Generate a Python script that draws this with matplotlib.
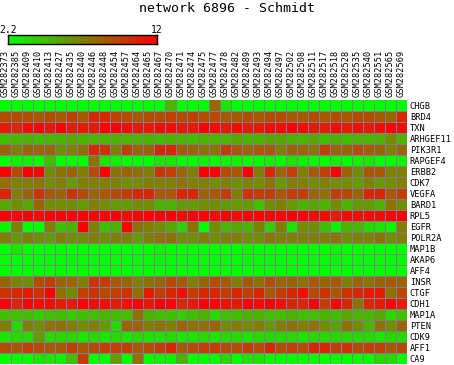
import numpy as np
import matplotlib
matplotlib.use("Agg")
import matplotlib.pyplot as plt
from matplotlib.colors import LinearSegmentedColormap

# sample ids (columns) and genes (rows)
samples = ["GSM282373", "GSM282385", "GSM282409", "GSM282410", "GSM282413", "GSM282427",
           "GSM282435", "GSM282440", "GSM282446", "GSM282448", "GSM282454", "GSM282457",
           "GSM282464", "GSM282465", "GSM282467", "GSM282470", "GSM282471", "GSM282474",
           "GSM282475", "GSM282477", "GSM282478", "GSM282482", "GSM282489", "GSM282493",
           "GSM282494", "GSM282497", "GSM282502", "GSM282508", "GSM282511", "GSM282517",
           "GSM282518", "GSM282528", "GSM282535", "GSM282540", "GSM282551", "GSM282565",
           "GSM282569"]
genes = ["CHGB", "BRD4", "TXN", "ARHGEF11", "PIK3R1", "RAPGEF4", "ERBB2", "CDK7", "VEGFA",
         "BARD1", "RPL5", "EGFR", "POLR2A", "MAP1B", "AKAP6", "AFF4", "INSR", "CTGF", "CDH1",
         "MAP1A", "PTEN", "CDK9", "AFF1", "CA9"]

vmin, vmax = 2.2, 12

# expression values, one list per gene
CHGB = [2.2]*15 + [5.1, 2.2, 2.2, 2.2, 8.1, 3.2] + [2.2]*16
BRD4 = [9.1,9.1,9.1,8.6,9.1,8.6,9.6,8.6,10.5,10.5,9.6,9.1,8.6, 9.1,9.1,9.6,9.1,9.6,9.1,9.1,8.6,8.6,9.1,8.6,9.1, 9.1,8.6,8.6,9.1,8.6,9.1,8.6,9.1,9.1,8.6,8.1,10.5]
TXN = [11.0,10.5,11.5,12.0,11.0,12.0,11.0,11.0,11.0,12.0,12.0,11.5,11.0, 11.0,11.5,11.5,11.0,11.0,12.0,11.5,11.0,11.5,11.0,11.0,11.5, 11.5,12.0,11.5,11.0,11.0,11.5,11.0,11.5,11.0,11.5,12.0,11.5]
ARHGEF11 = [4.7,5.1,5.1,4.7,5.1,5.1,5.6,5.1,5.1,5.1,5.1,5.1,5.1, 5.1,4.7,5.1,5.1,4.7,5.1,5.1,5.1,5.6,5.1,5.1,5.6, 5.6,5.1,5.1,5.6,4.7,5.1,4.7,5.1,5.1,5.1,6.6,5.1]
PIK3R1 = [8.1,7.1,8.1,8.1,8.1,6.6,7.1,7.6,10.5,10.0,7.1,9.6,8.1, 8.1,10.5,10.5,8.6,8.1,7.6,7.6,9.6,8.6,8.1,8.6,8.6, 7.1,8.1,8.1,7.6,9.6,8.1,8.1,9.1,8.6,8.1,7.1,8.1]
RAPGEF4 = [2.2,2.7,2.7,2.2,4.7,2.2,2.2,2.2,7.6,3.2,2.7,2.2,2.2, 2.2,3.2,3.2,2.2,2.2,2.7,2.2,2.7,2.7,2.2,2.2,2.7, 2.2,3.2,2.7,2.2,2.2,2.7,2.2,2.7,3.2,2.2,2.2,2.7]
ERBB2 = [12.0,9.1,12.0,12.0,6.6,7.6,8.1,7.1,9.1,12.0,7.6,8.1,7.6, 7.1,10.0,9.6,8.1,7.1,12.0,12.0,9.1,8.6,12.0,7.1,10.5, 8.1,9.6,7.1,8.6,9.6,12.0,8.1,6.6,8.6,8.6,7.1,7.1]
CDK7 = [7.6,7.1,7.1,7.6,6.6,7.1,6.1,7.1,7.1,7.1,7.1,6.6,6.6, 7.1,7.1,7.1,7.6,7.1,7.1,6.6,7.1,6.6,7.1,6.6,7.6, 6.1,7.1,7.1,6.6,7.1,6.6,6.6,6.1,7.1,6.1,6.6,7.1]
VEGFA = [10.5,7.1,8.1,10.0,8.6,8.1,10.0,9.1,8.1,8.6,9.1,9.6,10.5, 10.5,8.6,8.6,10.5,10.5,8.1,8.6,9.6,7.1,10.0,9.6,9.6, 8.6,9.6,9.6,8.1,7.6,9.6,9.1,8.1,10.5,10.5,8.6,9.6]
BARD1 = [5.6,6.6,5.6,8.1,6.6,6.6,6.6,6.1,7.1,6.6,6.1,6.1,6.6, 6.6,5.1,5.1,6.1,6.1,6.6,6.6,6.1,6.1,6.1,4.7,6.6, 7.1,6.1,5.1,5.6,5.1,6.6,5.1,6.1,6.1,5.1,7.6,6.6]
RPL5 = [12.0,12.0,12.0,11.5,12.0,12.0,12.0,12.0,12.0,12.0,12.0,11.5,12.0, 12.0,12.0,12.0,11.5,12.0,12.0,11.5,12.0,11.5,12.0,12.0,12.0, 12.0,12.0,12.0,11.5,11.5,11.0,11.5,11.5,11.5,11.5,12.0,12.0]
EGFR = [2.7,7.1,2.2,2.2,7.1,4.7,5.1,12.0,7.1,4.7,5.1,12.0,7.6, 7.1,6.6,5.6,4.2,7.6,2.2,6.6,5.1,5.6,5.1,7.1,4.2, 7.1,3.2,6.6,6.6,4.7,2.7,5.1,5.1,3.7,3.2,2.7,7.1]
POLR2A = [7.1,6.1,7.1,6.6,6.1,7.1,6.6,6.6,7.1,6.6,7.1,7.1,6.1, 7.1,7.6,7.6,6.6,6.6,7.1,6.6,7.1,7.1,6.6,6.6,7.6, 7.1,7.1,7.1,7.1,7.1,7.6,6.6,7.1,7.1,7.6,6.6,7.1]
MAP1B = [2.2,3.2,2.2,2.2,2.2,2.2,2.2,2.2,2.2,2.2,2.2,2.2,2.2, 2.2,2.7,2.2,2.2,2.2,2.2,2.2,2.2,2.2,2.7,2.2,2.2, 2.2,2.2,2.2,2.2,2.2,2.7,2.2,2.2,2.2,2.2,2.2,2.2]
AKAP6 = [2.2]*37
AFF4 = [2.2]*37
INSR = [8.1,7.1,6.6,9.1,9.6,8.1,8.1,7.1,10.0,9.6,8.6,8.1,7.1, 7.6,8.1,9.1,8.6,7.1,8.1,9.1,8.6,7.1,8.6,7.6,9.1, 8.1,8.1,7.6,8.6,8.1,8.6,7.1,8.1,7.6,8.1,8.6,8.1]
CTGF = [10.0,10.5,11.0,10.0,12.0,7.6,6.6,9.6,10.0,9.1,9.6,10.0,7.6, 11.0,9.6,10.5,11.5,9.6,10.5,10.5,9.6,10.5,9.6,10.5,8.6, 9.6,10.5,11.5,9.1,10.0,8.6,10.0,10.5,11.0,11.0,7.6,9.1]
CDH1 = [12.0,10.5,12.0,11.5,11.5,11.0,11.0,12.0,11.5,11.5,11.0,11.5,12.0, 11.0,12.0,12.0,10.5,11.0,12.0,12.0,11.5,11.0,12.0,11.5,12.0, 11.5,10.5,10.5,12.0,9.6,12.0,10.5,7.6,10.5,11.0,12.0,11.0]
MAP1A = [4.7,4.7,4.7,4.2,4.7,4.7,4.2,4.7,4.7,5.1,4.7,4.7,7.6, 5.1,4.7,4.7,4.2,4.7,5.1,3.7,4.7,4.7,5.1,5.1,4.7, 4.7,5.1,4.7,4.7,5.1,4.7,5.6,5.1,5.1,5.6,3.7,4.7]
PTEN = [7.1,3.7,7.1,6.6,7.6,7.6,7.1,6.6,7.1,6.1,3.7,8.1,8.1, 7.1,7.6,7.1,8.1,7.6,7.6,8.1,6.6,7.1,6.6,7.1,6.1, 7.1,7.6,7.1,7.6,6.6,5.6,7.6,6.6,5.1,7.6,6.6,8.1]
CDK9 = [3.2,3.7,3.7,6.1,3.7,3.7,3.7,3.2,3.7,3.2,3.7,3.2,3.7, 3.2,3.2,3.7,3.2,3.2,3.7,3.2,3.7,3.7,3.2,3.7,3.7, 3.7,3.7,3.2,3.7,3.7,3.7,3.7,3.7,3.7,3.2,3.7,3.7]
AFF1 = [9.1,8.6,9.6,9.1,8.6,8.6,9.6,8.6,9.1,9.6,9.6,9.6,8.6, 9.1,9.6,10.5,8.6,9.1,9.6,9.6,9.1,9.1,9.6,9.1,10.5, 9.1,9.6,9.1,10.5,10.5,9.6,10.0,9.1,9.6,9.6,8.6,9.1]
CA9 = [2.2,2.2,2.2,3.2,3.2,2.7,4.7,9.6,2.2,2.2,6.1,2.2,7.6, 2.2,2.7,2.7,5.1,2.2,2.2,2.2,3.7,2.2,3.2,3.2,2.2, 2.2,2.2,2.2,2.2,2.2,2.2,2.2,2.2,2.2,3.7,3.7,2.2]

data = np.array([CHGB, BRD4, TXN, ARHGEF11, PIK3R1, RAPGEF4, ERBB2, CDK7, VEGFA, BARD1,
                 RPL5, EGFR, POLR2A, MAP1B, AKAP6, AFF4, INSR, CTGF, CDH1, MAP1A, PTEN,
                 CDK9, AFF1, CA9])

cmap = LinearSegmentedColormap.from_list("green_red", ["#00ff00", "#ff0000"])
mono = "DejaVu Sans Mono"

fig = plt.figure(figsize=(4.54, 3.65), dpi=100)

# heatmap
ax = fig.add_axes([0, 1 / 365, 407 / 454, 264 / 365])
ax.pcolormesh(data, cmap=cmap, vmin=vmin, vmax=vmax, edgecolors="none", antialiased=False)
ax.set_xlim(0, len(samples))
ax.set_ylim(len(genes), 0)
# thin grey cell borders
for i in range(1, len(samples) + 1):
    ax.axvline(i, color="#808080", lw=0.72, snap=True)
for j in range(1, len(genes)):
    ax.axhline(j, color="#808080", lw=0.72, snap=True)
for s in ax.spines.values():
    s.set_visible(False)
ax.xaxis.tick_top()
ax.set_xticks(np.arange(len(samples)) + 0.5)
ax.set_xticklabels(samples, rotation=90, fontsize=6.2, family=mono)
ax.yaxis.tick_right()
ax.set_yticks(np.arange(len(genes)) + 0.5)
ax.set_yticklabels(genes, fontsize=6.2, family=mono)
ax.tick_params(length=0, pad=2)

# colour scale bar
cax = fig.add_axes([8 / 454, 1 - 44 / 365, 149 / 454, 9 / 365])
cax.imshow(np.linspace(vmin, vmax, 256).reshape(1, -1), cmap=cmap, aspect="auto",
           extent=[vmin, vmax, 0, 1])
cax.set_xticks([])
cax.set_yticks([])
for s in cax.spines.values():
    s.set_linewidth(1)
    s.set_color("black")
fig.text(8 / 454, 1 - 33 / 365, "2.2", ha="center", va="baseline", fontsize=7, family=mono)
fig.text(157 / 454, 1 - 33 / 365, "12", ha="center", va="baseline", fontsize=7, family=mono)

fig.text(0.5, 1 - 8 / 365, "network 6896 - Schmidt", ha="center", va="center",
         fontsize=9.5, family=mono)

fig.savefig("out.png", dpi=100)
